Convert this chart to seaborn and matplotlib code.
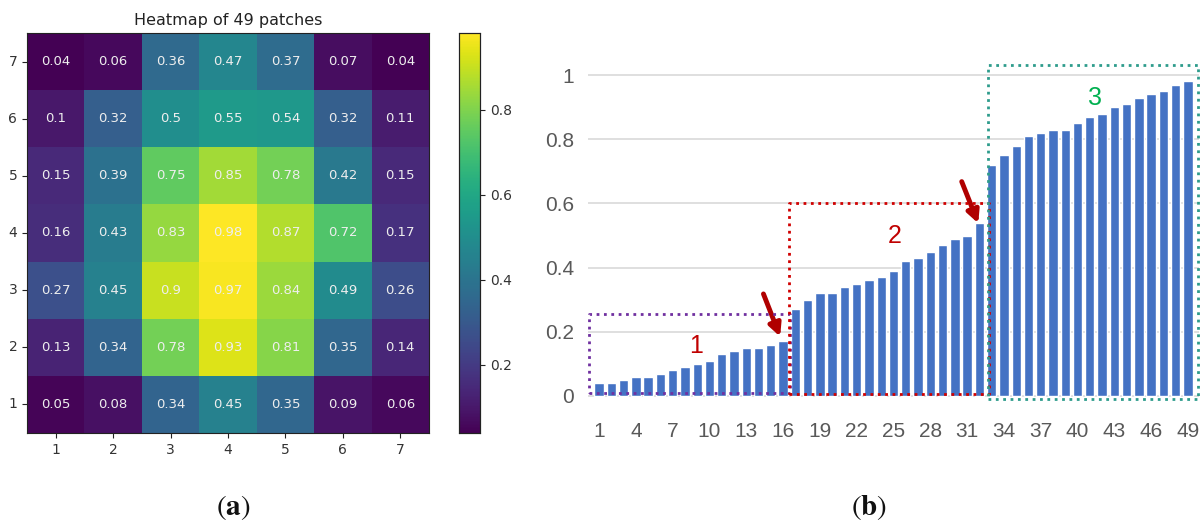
import matplotlib
matplotlib.use("Agg")
import matplotlib.pyplot as plt
import seaborn as sns
import pandas as pd
import numpy as np

sns.set_theme(style="white")
plt.rcParams['font.family'] = ['DejaVu Sans']

# heatmap values, top row (7) first
row_labels = ['7', '6', '5', '4', '3', '2', '1']
col_labels = ['1', '2', '3', '4', '5', '6', '7']
row7 = [0.04, 0.06, 0.36, 0.47, 0.37, 0.07, 0.04]
row6 = [0.1, 0.32, 0.5, 0.55, 0.54, 0.32, 0.11]
row5 = [0.15, 0.39, 0.75, 0.85, 0.78, 0.42, 0.15]
row4 = [0.16, 0.43, 0.83, 0.98, 0.87, 0.72, 0.17]
row3 = [0.27, 0.45, 0.9, 0.97, 0.84, 0.49, 0.26]
row2 = [0.13, 0.34, 0.78, 0.93, 0.81, 0.35, 0.14]
row1 = [0.05, 0.08, 0.34, 0.45, 0.35, 0.09, 0.06]

# sorted patch scores (bar chart)
group1 = [0.04, 0.04, 0.05, 0.06, 0.06, 0.07, 0.08, 0.09, 0.1, 0.11,
          0.13, 0.14, 0.15, 0.15, 0.16, 0.17]
group2 = [0.27, 0.30, 0.32, 0.32, 0.34, 0.35, 0.36, 0.37, 0.39, 0.42,
          0.43, 0.45, 0.47, 0.49, 0.5, 0.54]
group3 = [0.72, 0.75, 0.78, 0.81, 0.82, 0.83, 0.83, 0.85, 0.87, 0.88,
          0.9, 0.91, 0.93, 0.94, 0.95, 0.97, 0.98]
patch_ids = [str(i) for i in range(1, 50)]
xtick_labels = [str(i) for i in range(1, 50, 3)]
ytick_vals = [0, 0.2, 0.4, 0.6, 0.8, 1]

W, H = 1203, 528
fig = plt.figure(figsize=(W / 100, H / 100), dpi=100)

def px_box(l, t, r, b):
    return [l / W, 1 - b / H, (r - l) / W, (b - t) / H]

# ---- (a) heatmap ----
ax1 = fig.add_axes(px_box(27, 33, 429, 433))
cax = fig.add_axes(px_box(459, 33, 480, 433))
heat = pd.DataFrame([row7, row6, row5, row4, row3, row2, row1],
                    index=row_labels, columns=col_labels)
sns.heatmap(heat, ax=ax1, cbar_ax=cax, cmap='viridis', annot=True, fmt='g',
            annot_kws={'color': '#eeeeee', 'fontsize': 9.5})
ax1.set_title('Heatmap of 49 patches', fontsize=11.5, color='#222222', pad=6)
for s in ax1.spines.values():
    s.set_visible(True)
    s.set_color('#222222')
    s.set_linewidth(0.8)
ax1.tick_params(axis='both', length=3.5, width=0.8, color='#222222',
                labelsize=10, labelcolor='#333333', bottom=True, left=True)
ax1.set_yticklabels(row_labels, rotation=0)
ax1.set_xticklabels(col_labels, rotation=0)
cax.set_yticks([0.2, 0.4, 0.6, 0.8])
cax.tick_params(axis='y', length=3.5, width=0.8, color='#222222', labelsize=10,
                labelcolor='#333333', right=True)
for s in cax.spines.values():
    s.set_visible(True)
    s.set_color('#222222')
    s.set_linewidth(0.8)

# ---- (b) sorted bar chart ----
ax2 = fig.add_axes(px_box(588, 59, 1199, 402.4))
bars = pd.DataFrame({'patch': patch_ids, 'score': group1 + group2 + group3})
sns.barplot(data=bars, x='patch', y='score', ax=ax2, color='#4472C4',
            saturation=1, width=0.76)
ax2.set_xlim(-0.9, 48.9)
ax2.set_ylim(-0.02, 1.05)
ax2.set_yticks(ytick_vals)
ax2.set_yticklabels(['0', '0.2', '0.4', '0.6', '0.8', '1'])
ax2.set_xticks(range(0, 49, 3))
ax2.set_xticklabels(xtick_labels)
ax2.set_xlabel('')
ax2.set_ylabel('')
ax2.grid(axis='y', color='#d9d9d9', linewidth=1.2)
ax2.set_axisbelow(True)
for s in ax2.spines.values():
    s.set_visible(False)
ax2.tick_params(axis='both', length=0, labelsize=15, labelcolor='#595959',
                labelfontfamily='Liberation Sans')
ax2.tick_params(axis='x', pad=14)
ax2.tick_params(axis='y', pad=10)

def dotted_box(x0, y0, x1, y1, color):
    ax2.plot([x0, x1, x1, x0, x0], [y0, y0, y1, y1, y0], linestyle=':',
             color=color, linewidth=2, clip_on=False, zorder=5)

dotted_box(-0.81, 0.01, 15.57, 0.255, '#7030A0')
dotted_box(15.5, 0.006, 31.8, 0.60, '#D00000')
dotted_box(31.73, -0.01, 48.85, 1.03, '#2E9C8C')

ax2.text(7.88, 0.156, '1', color='#C00000', fontsize=18, ha='center',
         va='center', family='Liberation Sans')
ax2.text(24.1, 0.50, '2', color='#C00000', fontsize=18, ha='center',
         va='center', family='Liberation Sans')
ax2.text(40.4, 0.93, '3', color='#00B050', fontsize=18, ha='center',
         va='center', family='Liberation Sans')

arrow = dict(arrowstyle='-|>', color='#B00000', lw=3.5, mutation_scale=18,
             shrinkA=0, shrinkB=0)
ax2.annotate('', xy=(14.76, 0.185), xytext=(13.4, 0.318), arrowprops=arrow)
ax2.annotate('', xy=(30.91, 0.538), xytext=(29.56, 0.668), arrowprops=arrow)

fig.text(233 / W, 1 - 508 / H, r'$(\mathbf{a})$', math_fontfamily='stix',
         fontsize=21, ha='center', va='center', color='#111111')
fig.text(869 / W, 1 - 508 / H, r'$(\mathbf{b})$', math_fontfamily='stix',
         fontsize=21, ha='center', va='center', color='#111111')

fig.savefig('out.png', dpi=100, facecolor='white')
